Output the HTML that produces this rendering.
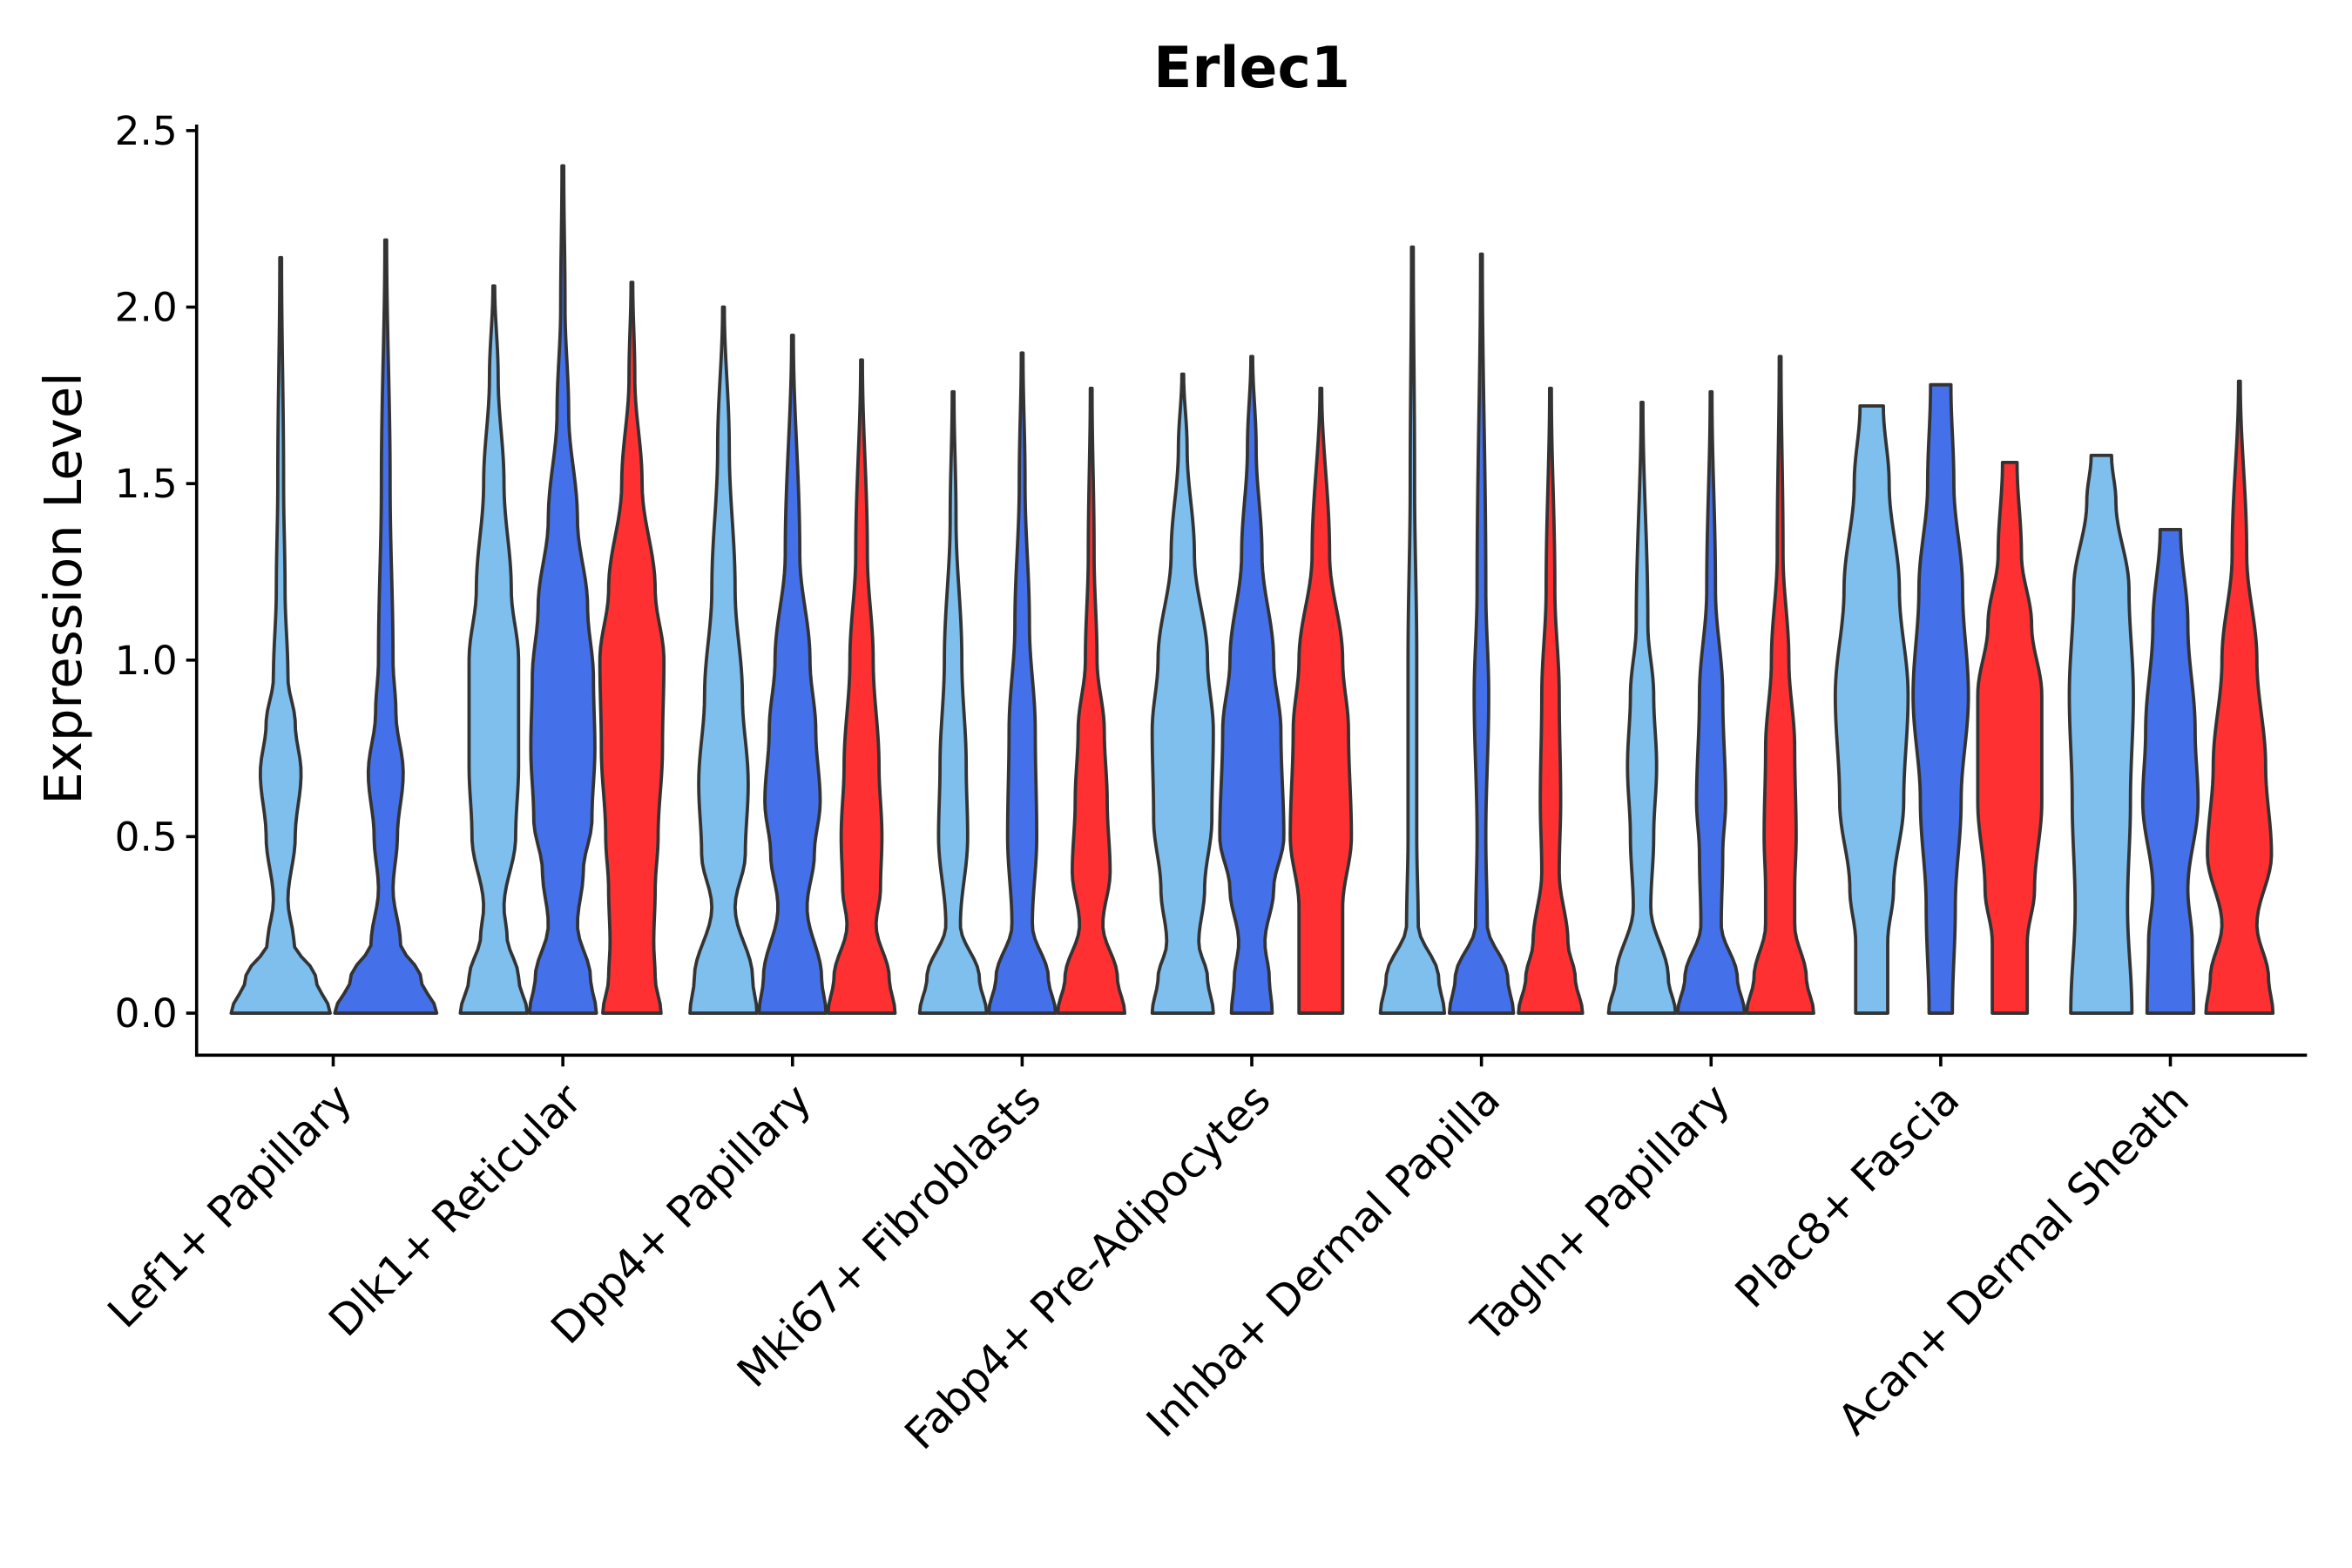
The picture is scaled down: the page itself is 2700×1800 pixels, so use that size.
<!DOCTYPE html>
<html><head><meta charset="utf-8"><style>
html,body{margin:0;padding:0;background:#fff;width:2700px;height:1800px;overflow:hidden;}
svg{display:block;position:absolute;left:0;top:0;}
text{font-family:"DejaVu Sans","Liberation Sans",sans-serif;fill:#000;}
</style></head><body>
<svg id="chart" width="2700" height="1800" xmlns="http://www.w3.org/2000/svg">
<g id="violins"></g>
<g id="axes"></g>
</svg>
<script>
const categories=["Lef1+ Papillary","Dlk1+ Reticular","Dpp4+ Papillary","Mki67+ Fibroblasts","Fabp4+ Pre-Adipocytes","Inhba+ Dermal Papilla","Tagln+ Papillary","Plac8+ Fascia","Acan+ Dermal Sheath"];
const yTicks=[0,0.5,1,1.5,2,2.5];
const yTickLabels=["0.0","0.5","1.0","1.5","2.0","2.5"];
const seriesColors=["#7fbfed","#4470ea","#ff3032"];
const violinCat=[0,0,1,1,1,2,2,2,3,3,3,4,4,4,5,5,5,6,6,6,7,7,7,8,8,8];
const violinSeries=[0,1,0,1,2,0,1,2,0,1,2,0,1,2,0,1,2,0,1,2,0,1,2,0,1,2];
const violinMax=[2.14,2.19,2.06,2.40,2.07,2.00,1.92,1.85,1.76,1.87,1.77,1.81,1.86,1.77,2.17,2.15,1.77,1.73,1.76,1.86,1.72,1.78,1.56,1.58,1.37,1.79];
const violinDensity=[
[[0,34],[0.1,24],[0.2,9],[0.32,5],[0.5,10],[0.68,14],[0.82,10],[0.95,5],[1.2,3],[1.5,2],[2.14,0.6]],
[[0,35],[0.1,24],[0.2,10],[0.35,5],[0.5,8],[0.68,12],[0.85,7],[1.0,5],[1.5,3],[2.19,0.6]],
[[0,23],[0.1,17],[0.22,9],[0.3,7],[0.5,15],[0.7,17],[1.0,17],[1.2,12],[1.5,7],[1.8,3],[2.06,0.6]],
[[0,23],[0.1,19],[0.25,10],[0.4,14],[0.55,20],[0.75,22],[0.95,21],[1.15,17],[1.4,10],[1.7,4],[2.0,1.5],[2.4,0.6]],
[[0,20],[0.1,16],[0.2,15],[0.35,16],[0.5,18],[0.75,21],[1.0,22],[1.2,16],[1.5,7],[1.8,2],[2.07,0.6]],
[[0,23],[0.1,20],[0.3,8],[0.45,15],[0.65,17],[0.9,13],[1.2,8],[1.6,4],[2.0,0.6]],
[[0,23],[0.1,20],[0.3,10],[0.45,15],[0.6,19],[0.8,16],[1.0,12],[1.3,5],[1.92,0.6]],
[[0,23],[0.1,19],[0.25,10],[0.35,13],[0.5,14],[0.7,12],[1.0,8],[1.3,4],[1.85,0.6]],
[[0,23],[0.1,18],[0.25,5],[0.5,10],[0.7,9],[1.0,6],[1.4,2],[1.76,0.6]],
[[0,23],[0.1,18],[0.25,7],[0.5,10],[0.8,9],[1.1,5],[1.5,2],[1.87,0.6]],
[[0,23],[0.1,18],[0.25,8],[0.4,13],[0.6,11],[0.8,9],[1.0,4],[1.3,2],[1.77,0.6]],
[[0,21],[0.1,17],[0.2,11],[0.35,15],[0.55,20],[0.8,21],[1.0,17],[1.3,8],[1.6,3],[1.81,0.6]],
[[0,14],[0.1,12],[0.2,9],[0.35,15],[0.5,22],[0.8,20],[1.0,15],[1.3,7],[1.6,3],[1.86,0.6]],
[[0,15],[0.1,15],[0.3,15],[0.5,21],[0.8,19],[1.0,15],[1.3,6],[1.77,0.6]],
[[0,22],[0.1,18],[0.25,4],[0.5,3],[1.0,3],[1.5,1.5],[2.17,0.6]],
[[0,22],[0.1,18],[0.25,4],[0.5,3],[0.9,5],[1.2,3],[2.15,0.6]],
[[0,22],[0.1,17],[0.2,12],[0.4,6],[0.6,7],[0.9,6],[1.2,3],[1.77,0.6]],
[[0,23],[0.1,18],[0.3,6],[0.5,8],[0.7,10],[0.9,8],[1.1,4],[1.73,0.6]],
[[0,23],[0.1,18],[0.25,7],[0.45,8],[0.6,10],[0.9,8],[1.2,3],[1.76,0.6]],
[[0,23],[0.1,18],[0.25,10],[0.35,10],[0.5,11],[0.75,10],[1.0,6],[1.3,2],[1.86,0.6]],
[[0,11],[0.2,11],[0.35,15],[0.6,22],[0.9,25],[1.2,19],[1.5,12],[1.72,8]],
[[0,8],[0.3,10],[0.6,14],[0.9,19],[1.2,15],[1.5,9],[1.78,7]],
[[0,12],[0.2,12],[0.35,17],[0.6,22],[0.9,22],[1.1,15],[1.3,8],[1.56,5]],
[[0,21],[0.3,18],[0.6,20],[0.9,22],[1.2,19],[1.45,10],[1.58,7]],
[[0,16],[0.2,15],[0.35,12],[0.6,19],[0.8,17],[1.1,12],[1.37,7]],
[[0,23],[0.1,20],[0.25,12],[0.45,22],[0.7,18],[1.0,12],[1.3,5],[1.79,0.6]]
];
const NS="http://www.w3.org/2000/svg";
const S=2700/1567;
const F=1.85;
const X0=131*S,X1=1537*S,Y0=703*S;
function yScale(v){return (675-v*235.2)*S;}
function xCat(i){return (222+i*153)*S;}
function dodge(cat,s){
  const n=violinCat.filter(c=>c===cat).length;
  return (n===2?(s===0?-35:35):(s-1)*46)*S;
}
function interp(prof,y){
  if(y<=prof[0][0])return prof[0][1];
  for(let k=1;k<prof.length;k++){
    if(y<=prof[k][0]){
      const a=prof[k-1],b=prof[k];const t=(y-a[0])/(b[0]-a[0]);
      const s=(1-Math.cos(Math.PI*t))/2;return a[1]+(b[1]-a[1])*s;
    }
  }
  return prof[prof.length-1][1];
}
const svg=document.getElementById('chart');
function addText(x,y,str,size,anchor,weight,transform,name){
  const t=document.createElementNS(NS,'text');
  if(transform){t.setAttribute('transform',transform);}else{t.setAttribute('x',x);t.setAttribute('y',y);}
  t.setAttribute('text-anchor',anchor);
  t.setAttribute('style','font-size:'+(size*F).toFixed(1)+'px;font-weight:'+weight+';');
  t.textContent=str;
  
  
  svg.appendChild(t);
}
addText(834*S,58*S,'Erlec1',35,'middle','bold',null,'chart-title');
addText(0,0,'Expression Level',32,'middle','normal','translate('+(54*S)+','+(392*S)+') rotate(-90)','y-axis-title');
const vg=document.getElementById('violins');
for(let i=0;i<violinDensity.length;i++){
  const cx=xCat(violinCat[i])+dodge(violinCat[i],violinSeries[i]);
  const prof=violinDensity[i],mx=violinMax[i];
  const N=80;const L=[],R=[];
  for(let k=0;k<=N;k++){
    const y=mx*k/N;const w=interp(prof,y)*S*0.97;
    L.push([cx-w,yScale(y)]);R.push([cx+w,yScale(y)]);
  }
  let d="M"+L.map(p=>p[0].toFixed(2)+","+p[1].toFixed(2)).join(" L");
  d+=" L"+R.reverse().map(p=>p[0].toFixed(2)+","+p[1].toFixed(2)).join(" L")+" Z";
  const p=document.createElementNS(NS,'path');
  p.setAttribute('d',d);
  p.setAttribute('fill',seriesColors[violinSeries[i]]);
  p.setAttribute('stroke','#333');
  p.setAttribute('stroke-width','3.8');
  p.setAttribute('stroke-linejoin','round');
  
  
  vg.appendChild(p);
}
const ag=document.getElementById('axes');
function line(x1,y1,x2,y2,name){
  const l=document.createElementNS(NS,'line');
  l.setAttribute('x1',x1);l.setAttribute('y1',y1);l.setAttribute('x2',x2);l.setAttribute('y2',y2);
  l.setAttribute('stroke','#000');l.setAttribute('stroke-width','3.6');
  
  
  ag.appendChild(l);
}
line(X0,83*S,X0,Y0+1.8,'y-axis-line');
line(X0,Y0,X1,Y0,'x-axis-line');
yTicks.forEach((v,i)=>{
  line(X0-12,yScale(v),X0,yScale(v),'y-tick');
  addText(X0-22,yScale(v)+16,yTickLabels[i],24.5,'end','normal',null,'y-tick-label');
});
categories.forEach((c,i)=>{
  const x=xCat(i);
  line(x,Y0,x,Y0+13,'x-tick');
  addText(0,0,c,26.5,'end','normal','translate('+(x+24)+','+(Y0+54)+') rotate(-45)','x-tick-label');
});
</script>
</body></html>
